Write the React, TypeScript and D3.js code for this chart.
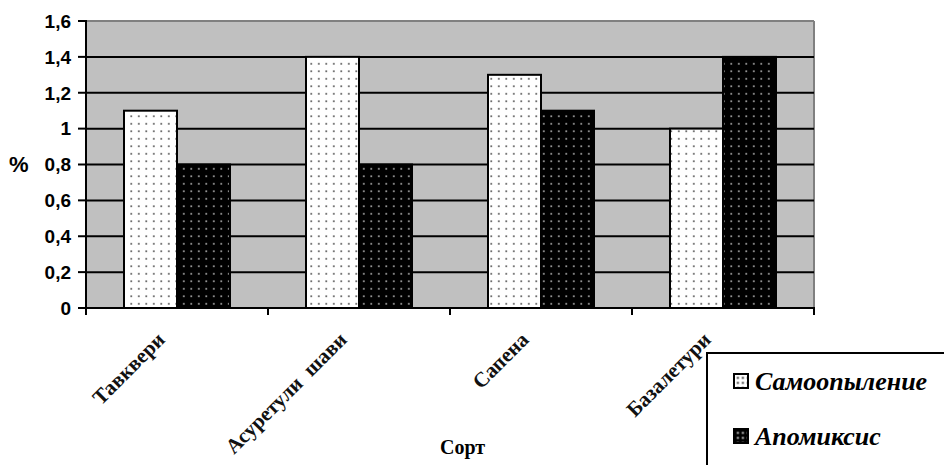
import React from "react";
import * as d3 from "d3";

const categories = ["Тавквери", "Асуретули  шави", "Сапена", "Базалетури"];
const series = ["Самоопыление", "Апомиксис"];
const selfPollination = [1.1, 1.4, 1.3, 1.0];
const apomixis = [0.8, 0.8, 1.1, 1.4];
const yTicks = [0, 0.2, 0.4, 0.6, 0.8, 1, 1.2, 1.4, 1.6];
const yLabel = "%";
const xLabel = "Сорт";

const W = 944;
const H = 465;
const left = 86;
const right = 814;
const top = 21;
const bottom = 308;

export default function App() {
  const x = d3.scaleBand<string>().domain(categories).range([left, right]).paddingInner(0).paddingOuter(0);
  const y = d3.scaleLinear().domain([0, 1.6]).range([bottom, top]);
  const inner = d3.scaleBand<string>().domain(series).range([38, x.bandwidth() - 38]);
  const values = [selfPollination, apomixis];
  const fmt = (v: number) => String(Math.round(v * 10) / 10).replace(".", ",");
  const serif = "'Liberation Serif', 'Times New Roman', serif";
  const sans = "'Liberation Sans', Arial, sans-serif";

  return (
    <svg width={W} height={H} style={{ position: "absolute", left: 0, top: 0, background: "#fff" }}>
      <defs>
        <pattern id="pLight" width="7.5" height="7.5" patternUnits="userSpaceOnUse">
          <rect width="7.5" height="7.5" fill="#fff" />
          <rect x="3" y="3" width="1.6" height="1.6" fill="#444" />
        </pattern>
        <pattern id="pDark" width="7.5" height="7.5" patternUnits="userSpaceOnUse">
          <rect width="7.5" height="7.5" fill="#000" />
          <rect x="3" y="3" width="1.6" height="1.6" fill="#bbb" />
        </pattern>
        <pattern id="lLight" width="5" height="5" patternUnits="userSpaceOnUse" x="0.5" y="0.5">
          <rect width="5" height="5" fill="#fff" />
          <rect x="1.5" y="1.5" width="1.8" height="1.8" fill="#111" />
        </pattern>
        <pattern id="lDark" width="5" height="5" patternUnits="userSpaceOnUse" x="0.5" y="0.5">
          <rect width="5" height="5" fill="#000" />
          <rect x="1.5" y="1.5" width="1.8" height="1.8" fill="#eee" />
        </pattern>
      </defs>

      {/* plot area */}
      <rect x={left} y={top} width={right - left} height={bottom - top} fill="#c0c0c0" />
      <line x1={left} x2={right} y1={y(1.6)} y2={y(1.6)} stroke="#808080" strokeWidth={2} />
      <line x1={right} x2={right} y1={top} y2={bottom} stroke="#808080" strokeWidth={2} />
      {yTicks.filter((t) => t > 0 && t < 1.6).map((t) => (
        <line key={t} x1={left} x2={right} y1={y(t)} y2={y(t)} stroke="#000" strokeWidth={2} />
      ))}

      {/* bars */}
      {categories.map((c, i) =>
        series.map((s, j) => {
          const bx = (x(c) as number) + (inner(s) as number);
          const by = y(values[j][i]);
          return (
            <rect
              key={c + s}
              x={bx}
              y={by}
              width={inner.bandwidth()}
              height={bottom - by}
              fill={j === 0 ? "url(#pLight)" : "url(#pDark)"}
              stroke="#000"
              strokeWidth={2}
            />
          );
        })
      )}

      {/* axes */}
      <line x1={left} x2={left} y1={top - 1} y2={bottom} stroke="#000" strokeWidth={2} />
      <line x1={left - 1} x2={right + 1} y1={bottom} y2={bottom} stroke="#000" strokeWidth={2} />
      {yTicks.map((t) => (
        <g key={t}>
          <line x1={left - 8} x2={left} y1={y(t)} y2={y(t)} stroke="#000" strokeWidth={2} />
          <text
            x={left - 15}
            y={y(t)}
            dy="0.36em"
            textAnchor="end"
            fontFamily={sans}
            fontWeight="bold"
            fontSize={19}
            fill="#000"
          >
            {fmt(t)}
          </text>
        </g>
      ))}
      <text x={9} y={y(0.8)} dy="0.36em" fontFamily={sans} fontWeight="bold" fontSize={22} fill="#000">
        {yLabel}
      </text>

      {[...categories.map((c) => x(c) as number), right].map((tx, i) => (
        <line key={i} x1={tx} x2={tx} y1={bottom} y2={bottom + 7} stroke="#000" strokeWidth={2} />
      ))}

      {categories.map((c) => {
        const cx = (x(c) as number) + x.bandwidth() / 2 - 11;
        const cy = 341;
        return (
          <text
            key={c}
            transform={`translate(${cx},${cy}) rotate(-45)`}
            textAnchor="end"
            fontFamily={serif}
            fontWeight="bold"
            fontSize={21}
            fill="#111"
            style={{ whiteSpace: "pre" }}
          >
            {c}
          </text>
        );
      })}

      <text x={440} y={454} fontFamily={serif} fontWeight="bold" fontSize={20} fill="#000">
        {xLabel}
      </text>

      {/* legend */}
      <rect x={707} y={353} width={260} height={140} fill="#fff" stroke="#000" strokeWidth={2} />
      {series.map((s, j) => {
        const ly = 381 + j * 55;
        return (
          <g key={s}>
            <rect x={734} y={ly - 7} width={14} height={14} fill={j === 0 ? "url(#lLight)" : "url(#lDark)"} stroke="#000" strokeWidth={2} />
            <text
              x={755}
              y={ly}
              dy="0.35em"
              fontFamily={serif}
              fontWeight="bold"
              fontStyle="italic"
              fontSize={26}
              fill="#000"
            >
              {s}
            </text>
          </g>
        );
      })}
    </svg>
  );
}
